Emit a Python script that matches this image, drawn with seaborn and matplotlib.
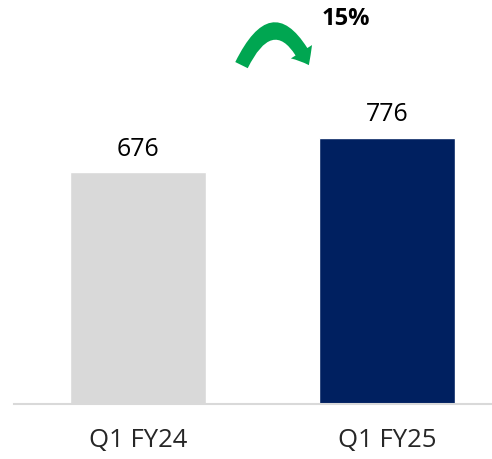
import matplotlib
matplotlib.use("Agg")
import matplotlib.pyplot as plt
import seaborn as sns
import pandas as pd
from matplotlib.patches import FancyArrowPatch

periods = ["Q1 FY24", "Q1 FY25"]
values = [676, 776]
bar_colors = ["#D9D9D9", "#002060"]
growth_label = "15%"

sns.set_style("white")
plt.rcParams["font.family"] = ["Open Sans", "DejaVu Sans"]

df = pd.DataFrame({"period": periods, "value": values})

fig = plt.figure(figsize=(4.92, 4.59), dpi=100)
ax = fig.add_axes([14 / 492, 55 / 459, 478 / 492, 404 / 459])

sns.barplot(data=df, x="period", y="value", hue="period", palette=bar_colors,
            width=0.546, legend=False, saturation=1, ax=ax)

ax.set_xlim(-0.498, 1.42)
ax.set_ylim(0, 1177)
ax.set_xlabel("")
ax.set_ylabel("")
ax.set_yticks([])
for s in ["top", "right", "left"]:
    ax.spines[s].set_visible(False)
ax.spines["bottom"].set_color("#D9D9D9")
ax.spines["bottom"].set_linewidth(1.5)
ax.tick_params(axis="x", length=0, labelsize=18.5, pad=17)

for i, v in enumerate(values):
    ax.text(i, v + 30, f"{v}", ha="center", va="bottom", fontsize=18, color="#000000")

# growth arrow between the bars
arrow = FancyArrowPatch((0.41, 980), (0.69, 980),
                        connectionstyle="arc3,rad=-1.05",
                        arrowstyle="simple,head_width=1.8,head_length=1.1,tail_width=1.0",
                        mutation_scale=10, color="#00A651", lw=0)
ax.add_patch(arrow)
ax.text(0.835, 1121, growth_label, ha="center", va="center", fontsize=17,
        fontweight="bold", color="#000000")

fig.savefig("out.png", dpi=100)
